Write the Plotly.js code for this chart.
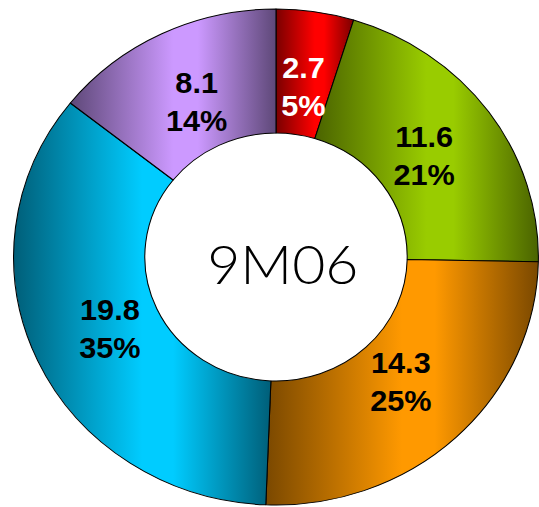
<!DOCTYPE html>
<html>
<head>
<meta charset="utf-8">
<script src="https://cdn.plot.ly/plotly-3.0.1.min.js"></script>
<style>
  html, body { margin: 0; padding: 0; background: #ffffff; overflow: hidden; }
  #chart { width: 539px; height: 507px; transform: scaleX(1.058); transform-origin: 276px 0; }
</style>
</head>
<body>
<div id="chart"></div>
<script>
// Nine-month 2006 breakdown
const segments = ['A', 'B', 'C', 'D', 'E'];
const amounts = [2.7, 11.6, 14.3, 19.8, 8.1];
const periodLabel = '9M06';

// bright face colour and darker edge colour for each segment
const faceColors = ['#FF0000', '#99CC00', '#FF9900', '#00CCFF', '#CC99FF'];
const edgeColors = ['#7A0000', '#4A6300', '#7A4800', '#005E78', '#5E4878'];
const labelColors = ['#FFFFFF', '#000000', '#000000', '#000000', '#000000'];

const HOLE = 0.5;
const LABEL_RADIUS = 0.695;   // fraction of the outer radius where value labels sit

const trace = {
  type: 'pie',
  labels: segments,
  values: amounts,
  sort: false,
  direction: 'clockwise',
  rotation: 0,
  hole: HOLE,
  marker: { colors: faceColors, line: { color: '#000000', width: 1 } },
  textinfo: 'none',
  hoverinfo: 'none',
  showlegend: false
};

// value + share labels placed on each slice's middle angle
const total = amounts.reduce(function (a, b) { return a + b; }, 0);
const annotations = [];
let running = 0;
amounts.forEach(function (v, i) {
  const mid = (running + v / 2) / total * 2 * Math.PI;
  running += v;
  annotations.push({
    text: v.toFixed(1) + '<br>' + Math.round(v / total * 100) + '%',
    xref: 'paper', yref: 'paper',
    x: 0.5 + 0.5 * LABEL_RADIUS * Math.sin(mid),
    y: 0.5 + 0.5 * LABEL_RADIUS * Math.cos(mid),
    xanchor: 'center', yanchor: 'middle',
    showarrow: false,
    font: { family: 'Liberation Sans, Arial, sans-serif', size: 29, color: labelColors[i], weight: 'bold' }
  });
});
annotations.push({
  text: periodLabel,
  xref: 'paper', yref: 'paper', x: 0.5, y: 0.5,
  xanchor: 'center', yanchor: 'middle',
  xshift: 6, yshift: -6,
  showarrow: false,
  font: { family: 'Lato, Open Sans, sans-serif', size: 54, color: '#000000', weight: 300 }
});

const layout = {
  width: 539,
  height: 507,
  margin: { l: 27.5, r: 14.5, t: 8.5, b: 1.5 },
  paper_bgcolor: '#ffffff',
  plot_bgcolor: '#ffffff',
  annotations: annotations
};

Plotly.newPlot('chart', [trace], layout, { staticPlot: true, displayModeBar: false }).then(function (gd) {
  // give every slice a dark-bright-dark horizontal shading
  const NS = 'http://www.w3.org/2000/svg';
  const svg = gd.querySelector('svg.main-svg');
  let defs = svg.querySelector('defs');
  if (!defs) { defs = document.createElementNS(NS, 'defs'); svg.insertBefore(defs, svg.firstChild); }
  gd.querySelectorAll('g.slice').forEach(function (g, i) {
    const path = g.querySelector('path.surface');
    if (!path) return;
    const grad = document.createElementNS(NS, 'linearGradient');
    grad.setAttribute('id', 'shade' + i);
    grad.setAttribute('x1', '0'); grad.setAttribute('y1', '0');
    grad.setAttribute('x2', '1'); grad.setAttribute('y2', '0');
    [[0, edgeColors[i]], [0.5, faceColors[i]], [0.62, faceColors[i]], [1, edgeColors[i]]].forEach(function (s) {
      const stop = document.createElementNS(NS, 'stop');
      stop.setAttribute('offset', s[0]);
      stop.setAttribute('stop-color', s[1]);
      grad.appendChild(stop);
    });
    defs.appendChild(grad);
    path.style.fill = 'url(#shade' + i + ')';
  });
});
</script>
</body>
</html>
